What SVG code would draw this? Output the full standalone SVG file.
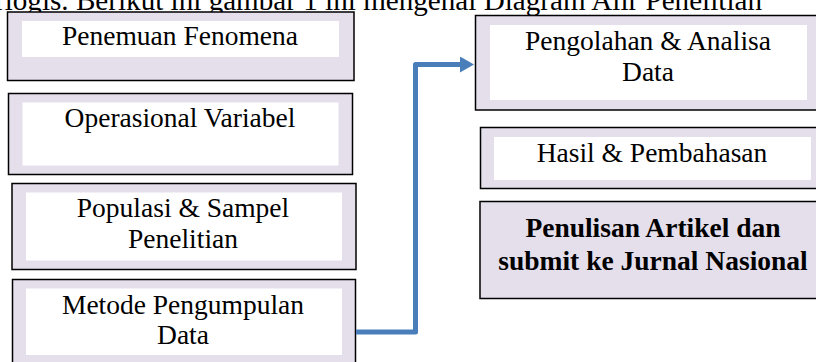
<svg xmlns="http://www.w3.org/2000/svg" width="816" height="362" viewBox="0 0 816 362">
  <style>
    .outer { fill: #E5DFEC; stroke: #000; stroke-width: 1.5; }
    .inner { fill: #FFFFFF; stroke: none; }
    text { font-family: 'Liberation Serif', 'Times New Roman', serif; fill: #000; }
    .lbl { font-size: 27.5px; text-anchor: middle; }
    .bold { font-weight: bold; }
    .head { font-size: 30px; }
    .conn { fill: none; stroke: #4A7EBB; stroke-width: 5; stroke-linejoin: round; }
  </style>
  <defs>
    <marker id="arrow" markerUnits="userSpaceOnUse" markerWidth="16" markerHeight="18" refX="2" refY="8" orient="auto">
      <path d="M0,0 L14,8 L0,16 Z" fill="#4A7EBB"/>
    </marker>
  </defs>
  <rect width="816" height="362" fill="#FFFFFF"/>

  <text class="head" x="-5" y="10" textLength="767" lengthAdjust="spacingAndGlyphs">rlogis. Berikut ini gambar 1 ini mengenal Diagram Alir Penelitian</text>

  <g id="node-penemuan">
    <rect class="outer" x="7.5" y="12" width="346.5" height="68.5"/>
    <rect class="inner" x="22" y="21" width="317" height="36"/>
    <text class="lbl" x="180" y="45">Penemuan Fenomena</text>
  </g>
  <g id="node-operasional">
    <rect class="outer" x="8.5" y="93.5" width="344" height="81"/>
    <rect class="inner" x="22.5" y="102.5" width="316" height="63"/>
    <text class="lbl" x="180" y="127">Operasional Variabel</text>
  </g>
  <g id="node-populasi">
    <rect class="outer" x="12" y="183.5" width="344" height="86"/>
    <rect class="inner" x="26" y="192.5" width="316" height="68"/>
    <text class="lbl" x="183" y="216.5">Populasi &amp; Sampel</text>
    <text class="lbl" x="183" y="247.5">Penelitian</text>
  </g>
  <g id="node-metode">
    <rect class="outer" x="12.5" y="279.5" width="343" height="90"/>
    <rect class="inner" x="26" y="288.5" width="316" height="66.5"/>
    <text class="lbl" x="183" y="314">Metode Pengumpulan</text>
    <text class="lbl" x="183" y="344">Data</text>
  </g>
  <g id="node-pengolahan">
    <rect class="outer" x="475.5" y="15.5" width="350" height="94.5"/>
    <rect class="inner" x="490" y="25" width="317" height="75"/>
    <text class="lbl" x="648" y="50">Pengolahan &amp; Analisa</text>
    <text class="lbl" x="648" y="81">Data</text>
  </g>
  <g id="node-hasil">
    <rect class="outer" x="480.5" y="127.5" width="350" height="61"/>
    <rect class="inner" x="494" y="137" width="317" height="43"/>
    <text class="lbl" x="652" y="162">Hasil &amp; Pembahasan</text>
  </g>
  <g id="node-penulisan">
    <rect class="outer" x="480" y="201.5" width="350" height="97"/>
    <text class="lbl bold" x="653" y="237">Penulisan Artikel dan</text>
    <text class="lbl bold" x="653" y="270">submit ke Jurnal Nasional</text>
  </g>

  <g id="connectors">
    <path class="conn" d="M356,332 H415.5 V64.5 H462" marker-end="url(#arrow)"/>
  </g>
</svg>
